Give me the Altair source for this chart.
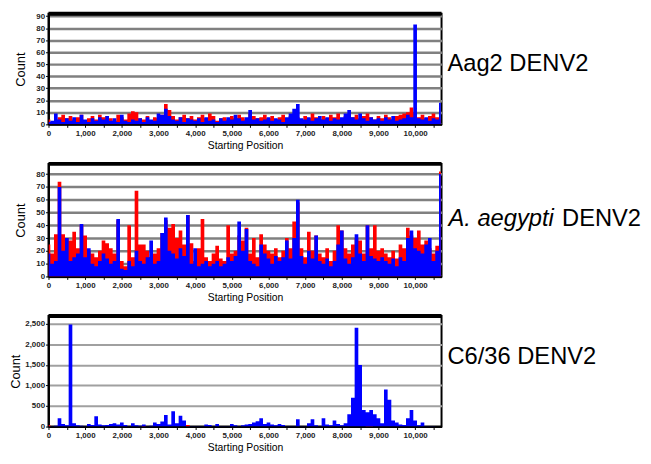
import altair as alt
import pandas as pd

positions = list(range(0, 10800, 100))

aag2_red = [4, 2, 3, 6, 8, 5, 7, 4, 6, 8,
            3, 5, 7, 4, 8, 6, 7, 5, 3, 8,
            6, 4, 9, 11, 10, 5, 4, 7, 3, 6,
            5, 8, 17, 12, 7, 4, 6, 8, 5, 7,
            4, 6, 8, 5, 9, 7, 3, 5, 6, 4,
            7, 5, 8, 6, 4, 9, 7, 5, 6, 8,
            5, 7, 4, 6, 8, 5, 7, 4, 6, 3,
            7, 5, 9, 6, 4, 7, 5, 8, 6, 9,
            5, 7, 4, 6, 8, 5, 7, 9, 6, 4,
            7, 5, 8, 6, 4, 7, 8, 9, 10, 14,
            10, 6, 8, 5, 7, 9, 6, 4]
aag2_blue = [2, 3, 9, 4, 2, 5, 3, 6, 2, 8,
             4, 2, 5, 3, 6, 4, 7, 3, 5, 2,
             8, 3, 2, 4, 3, 5, 2, 6, 4, 3,
             9, 8, 13, 7, 4, 3, 6, 2, 5, 4,
             3, 5, 2, 6, 3, 4, 2, 5, 3, 6,
             4, 8, 5, 3, 6, 12, 4, 5, 3, 4,
             6, 3, 5, 4, 2, 6, 9, 13, 17, 5,
             4, 6, 3, 5, 7, 4, 6, 3, 5, 4,
             6, 9, 12, 6, 4, 9, 5, 3, 6, 4,
             5, 3, 6, 4, 7, 3, 4, 5, 8, 6,
             83, 5, 4, 6, 3, 5, 4, 18]

aeg_red = [25, 18, 33, 74, 33, 30, 28, 35, 22, 40,
           32, 20, 18, 15, 20, 28, 26, 22, 18, 44,
           12, 8, 40, 15, 67, 25, 25, 20, 15, 18,
           22, 34, 44, 38, 41, 30, 36, 25, 48, 26,
           12, 22, 45, 15, 12, 18, 24, 14, 12, 40,
           18, 20, 32, 28, 38, 18, 30, 15, 33, 25,
           20, 18, 22, 15, 20, 30, 22, 43, 58, 22,
           15, 35, 20, 32, 18, 15, 22, 12, 20, 40,
           36, 22, 18, 25, 30, 28, 18, 40, 22, 40,
           20, 22, 18, 15, 20, 14, 25, 22, 38, 32,
           30, 36, 25, 28, 22, 18, 24, 82]
aeg_blue = [18, 10, 12, 70, 20, 30, 12, 15, 18, 41,
            15, 22, 10, 8, 12, 18, 14, 10, 12, 45,
            6, 5, 12, 8, 20, 12, 10, 15, 28, 10,
            12, 34, 46, 20, 18, 14, 22, 16, 48, 10,
            22, 8, 10, 12, 8, 10, 12, 8, 10, 15,
            12, 16, 43, 20, 37, 12, 10, 8, 25, 18,
            14, 10, 16, 12, 15, 28, 14, 30, 60, 16,
            10, 20, 14, 32, 12, 10, 14, 8, 12, 25,
            36, 14, 10, 15, 33, 18, 12, 40, 16, 14,
            12, 15, 12, 10, 14, 8, 15, 12, 30, 36,
            22, 20, 18, 25, 30, 12, 20, 80]

c636_red = [40, 0, 0, 0, 0, 0, 0, 0, 0, 0,
            0, 0, 0, 0, 0, 0, 0, 0, 0, 0,
            0, 0, 0, 0, 0, 0, 20, 0, 0, 0,
            0, 0, 0, 0, 0, 0, 0, 0, 40, 0,
            0, 0, 0, 0, 0, 0, 0, 0, 0, 0,
            0, 0, 0, 0, 0, 0, 0, 0, 0, 0,
            0, 0, 0, 0, 0, 0, 0, 0, 0, 0,
            0, 0, 0, 0, 0, 0, 0, 0, 0, 0,
            0, 0, 0, 0, 0, 0, 0, 30, 30, 0,
            0, 0, 0, 0, 0, 0, 0, 0, 0, 0,
            0, 0, 0, 0, 0, 0, 0, 0]
c636_blue = [10, 5, 20, 200, 60, 30, 2480, 80, 30, 20,
             5, 60, 40, 250, 50, 30, 40, 60, 80, 50,
             100, 40, 10, 80, 30, 20, 50, 10, 20, 100,
             60, 120, 280, 50, 370, 80, 260, 150, 10, 5,
             5, 10, 5, 50, 40, 5, 60, 5, 5, 10,
             60, 30, 5, 30, 50, 60, 100, 130, 200, 60,
             100, 50, 30, 60, 40, 5, 10, 5, 180, 10,
             5, 80, 180, 30, 10, 200, 50, 30, 150, 60,
             30, 80, 300, 700, 2400, 1500, 400, 350, 400, 300,
             200, 80, 900, 650, 150, 100, 50, 40, 200, 400,
             150, 30, 100, 10, 5, 5, 0, 0]

labels = ["Aag2 DENV2", "A. aegypti", "DENV2", "C6/36 DENV2"]
x_ticks = list(range(0, 10800, 500))

W = 398
XMAX = 10720
FONT = "Liberation Sans"


def panel(red, blue, ymax, yticks, height, grid_color, grid_w, title_pad, texts):
    df = pd.DataFrame({
        "pos": positions + positions,
        "count": list(red) + list(blue),
        "series": ["a_red"] * len(positions) + ["b_blue"] * len(positions),
    })
    xenc = alt.X(
        "pos:Q",
        scale=alt.Scale(domain=[0, XMAX], nice=False, zero=False),
        axis=alt.Axis(
            title="Starting Position",
            values=x_ticks,
            labelExpr="datum.value % 1000 == 0 ? format(datum.value, ',') : ''",
            grid=False,
            tickSize=3,
            labelPadding=2,
            titlePadding=3,
            titleFontSize=10.5,
            labelFlush=False,
            labelOverlap=False,
        ),
    )
    yenc = alt.Y(
        "count:Q",
        stack=None,
        scale=alt.Scale(domain=[0, ymax], nice=False),
        axis=alt.Axis(
            title="Count",
            values=yticks,
            format=",d",
            grid=True,
            gridColor=grid_color,
            gridWidth=grid_w,
            gridOpacity=1,
            tickSize=3,
            labelPadding=1,
            titlePadding=title_pad,
            titleFontSize=13,
            labelFlush=False,
            labelOverlap=False,
        ),
    )
    areas = alt.Chart(df).mark_area(interpolate="step", clip=True, opacity=1).encode(
        x=xenc,
        y=yenc,
        color=alt.Color("series:N", scale=alt.Scale(domain=["a_red", "b_blue"], range=["#ff0000", "#0000ff"]),
                        legend=None),
    )
    top_rule = alt.Chart(pd.DataFrame({"a": [0]})).mark_rule(color="black", strokeWidth=4).encode(
        x=alt.value(0), x2=alt.value(W), y=alt.value(0)
    )
    layers = [areas, top_rule]
    for (txt, dx, dy, style) in texts:
        t = alt.Chart(pd.DataFrame({"t": [txt]})).mark_text(
            align="left", baseline="middle", fontSize=24, font=FONT, fontStyle=style, color="black"
        ).encode(x=alt.value(W + dx), y=alt.value(height / 2 + dy), text="t:N")
        layers.append(t)
    return alt.layer(*layers).properties(width=W, height=height)


p1 = panel(aag2_red, aag2_blue, 92, list(range(0, 91, 10)), 112, "#808080", 2.5, 8,
           [(labels[0], 6, -5, "normal")])
p2 = panel(aeg_red, aeg_blue, 88, list(range(0, 81, 10)), 114, "#808080", 2.5, 8,
           [(labels[1], 7, -1, "italic"), (labels[2], 122, -1, "normal")])
p3 = panel(c636_red, c636_blue, 2690, list(range(0, 2501, 500)), 112, "#a0a0a0", 2, 2,
           [(labels[3], 6, -14, "normal")])

chart = alt.vconcat(
    p1, p2, p3, spacing=9,
    padding={"top": 0, "left": 0, "right": 0, "bottom": 0},
).configure_view(
    stroke="black", strokeWidth=2
).configure_axis(
    labelFont=FONT,
    labelFontSize=8,
    labelFontWeight="bold",
    labelColor="#222222",
    tickColor="black",
    domainColor="black",
    domainWidth=2,
    titleFont=FONT,
    titleFontWeight="normal",
    titleColor="black",
)

chart.save("out.html", embed_options={"renderer": "svg", "actions": False})
